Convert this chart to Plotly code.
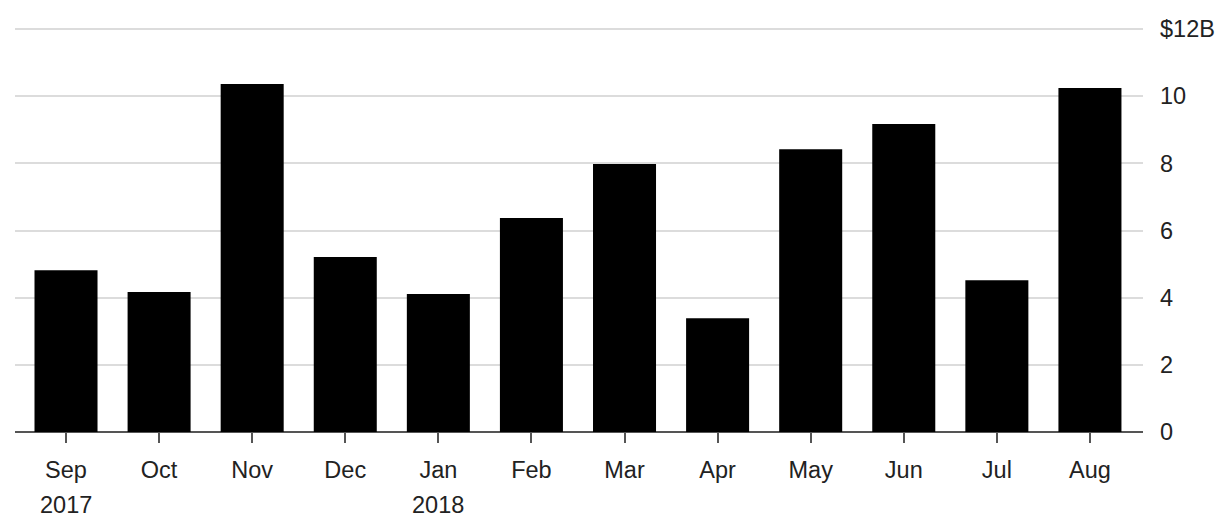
import plotly.graph_objects as go

months = ["Sep", "Oct", "Nov", "Dec", "Jan", "Feb", "Mar", "Apr", "May", "Jun", "Jul", "Aug"]
values = [4.82, 4.17, 10.36, 5.21, 4.11, 6.37, 7.98, 3.39, 8.42, 9.17, 4.52, 10.24]
year_labels = {"Sep": "2017", "Jan": "2018"}
y_tickvals = [0, 2, 4, 6, 8, 10, 12]
y_ticktext = ["0", "2", "4", "6", "8", "10", "$12B"]

FONT = "Liberation Sans, Arial, Helvetica, sans-serif"
TXT = "#222222"
FS = 23.5

fig = go.Figure()
fig.add_trace(go.Bar(x=months, y=values, marker=dict(color="#000000", line=dict(width=0)),
                     hoverinfo="x+y"))

for m, yr in year_labels.items():
    fig.add_annotation(x=m, xref="x", y=-0.2155, yref="paper", text=yr, showarrow=False,
                       yanchor="bottom", borderpad=0,
                       font=dict(family=FONT, size=FS, color=TXT))

fig.update_layout(
    width=1224, height=519,
    margin=dict(l=15, r=81, t=28, b=87),
    paper_bgcolor="white", plot_bgcolor="white",
    bargap=0.323,
    showlegend=False,
    font=dict(family=FONT, size=FS, color=TXT),
)
fig.update_xaxes(
    type="category",
    range=[-0.548, 11.57],
    showgrid=False, automargin=False,
    ticks="outside", ticklen=10, tickwidth=1.5, tickcolor="#555555",
    ticklabelstandoff=7,
    tickfont=dict(family=FONT, size=FS, color=TXT),
    showline=False, zeroline=False,
)
fig.update_yaxes(
    side="right",
    range=[0, 12.03], automargin=False,
    tickvals=y_tickvals, ticktext=y_ticktext,
    showgrid=True, gridcolor="#dcdcdc", gridwidth=2,
    zeroline=True, zerolinecolor="#555555", zerolinewidth=2,
    ticks="", ticklabelstandoff=16,
    tickfont=dict(family=FONT, size=FS, color=TXT),
)

fig.write_html("out.html")
